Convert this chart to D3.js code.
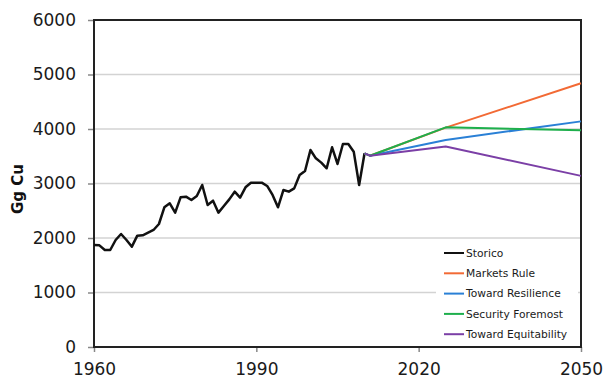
<!DOCTYPE html>
<html>
<head>
<meta charset="utf-8">
<script src="https://cdn.jsdelivr.net/npm/d3@7"></script>
<style>
  body { margin: 0; background: #fff; }
  svg { display: block; font-family: "DejaVu Sans", Verdana, sans-serif; }
</style>
</head>
<body>
<div id="chart"></div>
<script>
// Historical copper data (Storico), 1960-2010
const histYears = d3.range(1960, 2011);
const histValues = [
  1872, 1865, 1780, 1780, 1963, 2074, 1963, 1841, 2043, 2050,
  2098, 2147, 2257, 2563, 2636, 2465, 2746, 2758, 2697, 2770,
  2973, 2606, 2685, 2465, 2587, 2709, 2850, 2740, 2930, 3015,
  3015, 3015, 2955, 2790, 2563, 2880, 2850, 2910, 3156, 3230,
  3615, 3462, 3383, 3279, 3664, 3358, 3725, 3725, 3584, 2973,
  3554
];

// Scenario projections
const scenarioYears = [2010, 2011, 2025, 2050];
const marketsRule = [3554, 3510, 4025, 4840];
const towardResilience = [3554, 3510, 3800, 4140];
const securityForemost = [3554, 3510, 4030, 3975];
const towardEquitability = [3554, 3510, 3680, 3140];

const seriesNames = ["Storico", "Markets Rule", "Toward Resilience", "Security Foremost", "Toward Equitability"];
const seriesColors = ["#111111", "#f26a35", "#2a80d6", "#1eaf4c", "#7b3fa6"];

const xTicks = [1960, 1990, 2020, 2050];
const yTicks = [0, 1000, 2000, 3000, 4000, 5000, 6000];

const W = 606, H = 378;
const margin = { top: 20, right: 25, bottom: 31, left: 94 };
const width = W - margin.left - margin.right;
const height = H - margin.top - margin.bottom;

const svg = d3.select("#chart")
  .append("svg")
  .attr("width", W)
  .attr("height", H);

const g = svg.append("g")
  .attr("transform", `translate(${margin.left},${margin.top})`);

const x = d3.scaleLinear().domain([1960, 2050]).range([0, width]);
const y = d3.scaleLinear().domain([0, 6000]).range([height, 0]);

// Gridlines
g.append("g")
  .selectAll("line")
  .data(yTicks.filter(d => d > 0 && d < 6000))
  .join("line")
  .attr("x1", 0)
  .attr("x2", width)
  .attr("y1", d => y(d))
  .attr("y2", d => y(d))
  .attr("stroke", "#d3d3d3")
  .attr("stroke-width", 1.5);

// Axes
const yAxis = g.append("g")
  .call(d3.axisLeft(y).tickValues(yTicks).tickSize(6).tickPadding(12).tickFormat(d3.format("d")));
yAxis.select(".domain").remove();
yAxis.selectAll(".tick line").attr("stroke", "#888").attr("stroke-width", 1.5);
yAxis.selectAll("text").attr("font-size", 17).attr("fill", "#1a1a1a")
  .attr("font-family", "'DejaVu Sans', Verdana, sans-serif");

const xAxis = g.append("g")
  .attr("transform", `translate(0,${height})`)
  .call(d3.axisBottom(x).tickValues(xTicks).tickSize(5).tickPadding(11).tickFormat(d3.format("d")));
xAxis.select(".domain").remove();
xAxis.selectAll(".tick line").attr("stroke", "#888").attr("stroke-width", 1.5);
xAxis.selectAll("text").attr("font-size", 17).attr("fill", "#1a1a1a")
  .attr("font-family", "'DejaVu Sans', Verdana, sans-serif");

// Plot frame
g.append("rect")
  .attr("width", width)
  .attr("height", height)
  .attr("fill", "none")
  .attr("stroke", "#222")
  .attr("stroke-width", 2);

// Lines
const line = d3.line()
  .x(d => x(d[0]))
  .y(d => y(d[1]));

const scenarios = [marketsRule, towardResilience, securityForemost, towardEquitability];

g.append("path")
  .datum(histYears.map((yr, i) => [yr, histValues[i]]))
  .attr("fill", "none")
  .attr("stroke", seriesColors[0])
  .attr("stroke-width", 2.5)
  .attr("stroke-linejoin", "round")
  .attr("d", line);

scenarios.forEach((vals, k) => {
  g.append("path")
    .datum(scenarioYears.map((yr, i) => [yr, vals[i]]))
    .attr("fill", "none")
    .attr("stroke", seriesColors[k + 1])
    .attr("stroke-width", 2)
    .attr("stroke-linejoin", "round")
    .attr("d", line);
});

// Y axis title
svg.append("text")
  .attr("transform", "translate(23,189) rotate(-90)")
  .attr("text-anchor", "middle")
  .attr("font-size", 15)
  .attr("font-weight", "bold")
  .attr("fill", "#111")
  .text("Gg Cu");

// Legend
const legend = svg.append("g").attr("transform", "translate(436,241)");
legend.append("rect")
  .attr("width", 142)
  .attr("height", 102)
  .attr("fill", "#fff");

const rows = legend.selectAll("g.row")
  .data(seriesNames)
  .join("g")
  .attr("class", "row")
  .attr("transform", (d, i) => `translate(0,${12 + i * 20.3})`);

rows.append("line")
  .attr("x1", 8)
  .attr("x2", 28)
  .attr("stroke", (d, i) => seriesColors[i])
  .attr("stroke-width", 2);

rows.append("text")
  .attr("x", 30)
  .attr("dy", "0.35em")
  .attr("font-size", 10.7)
  .attr("fill", "#1a1a1a")
  .text(d => d);
</script>
</body>
</html>
